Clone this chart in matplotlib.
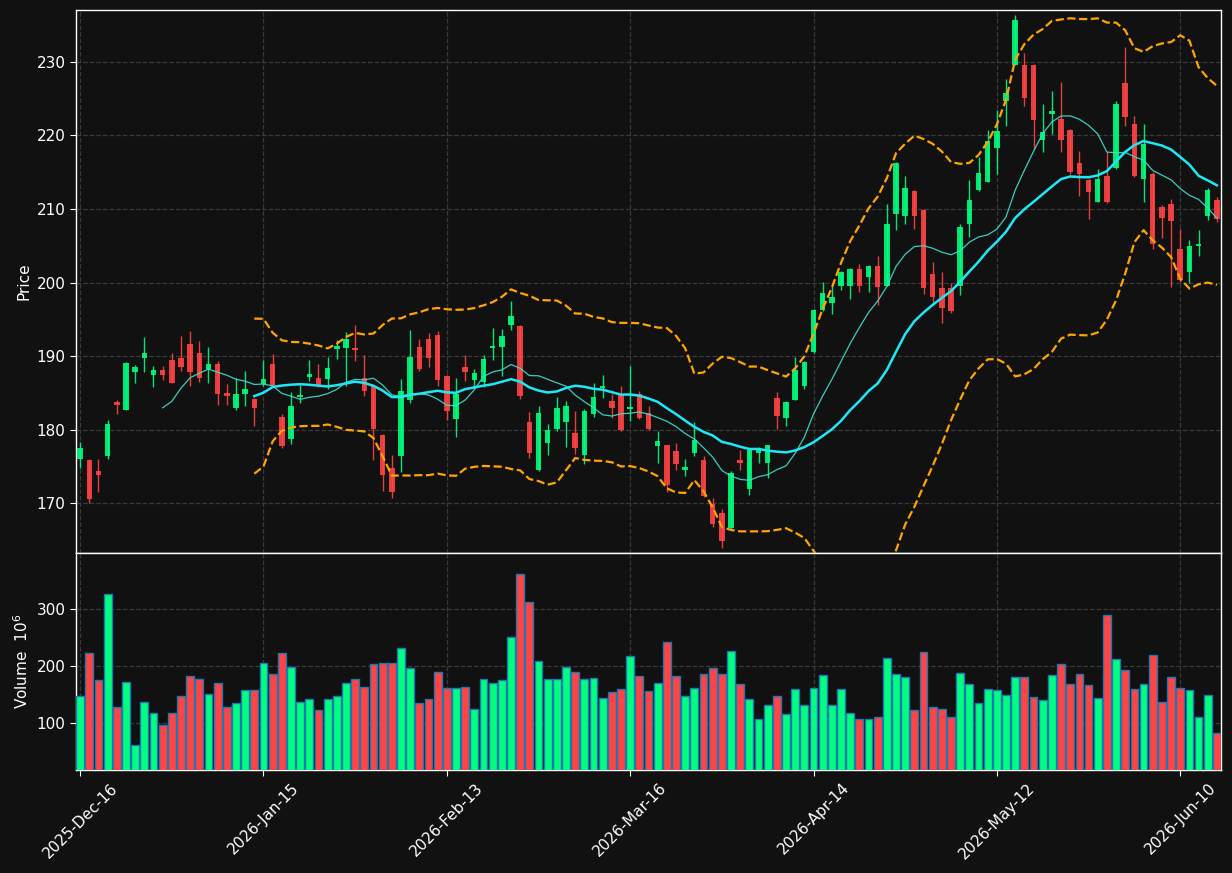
import matplotlib

matplotlib.use("Agg")

import matplotlib.pyplot as plt  # noqa: E402
import numpy as np  # noqa: E402
import pandas as pd  # noqa: E402

# daily OHLC
opens = [176.0, 175.9, 174.4, 176.4, 183.8, 182.7, 187.8, 189.7, 187.5, 188.1,
         189.5, 189.8, 191.7, 190.5, 188.2, 189.0, 185.0, 183.0, 184.8, 184.2,
         186.2, 189.0, 181.7, 178.7, 184.5, 187.2, 187.0, 186.9, 191.0, 191.1,
         191.1, 187.0, 186.0, 179.3, 174.8, 176.5, 184.1, 191.2, 192.3, 192.9,
         187.3, 181.5, 188.6, 186.8, 186.5, 191.1, 191.3, 194.3, 194.1, 181.0,
         174.6, 178.2, 180.1, 181.0, 179.6, 176.6, 182.2, 185.7, 183.9, 184.8,
         182.8, 184.9, 182.3, 177.8, 177.9, 177.1, 174.5, 176.8, 175.9, 169.9,
         168.7, 166.6, 175.9, 171.9, 176.9, 175.5, 184.3, 181.6, 184.1, 185.9,
         190.6, 196.3, 197.2, 199.6, 199.6, 201.9, 200.7, 202.3, 199.6, 209.3,
         209.1, 212.5, 209.8, 201.1, 199.3, 199.2, 199.6, 208.0, 212.6, 213.7,
         218.3, 224.7, 229.6, 229.5, 229.6, 219.4, 222.9, 222.2, 220.7, 216.3,
         213.9, 211.0, 214.5, 215.5, 227.1, 221.5, 214.0, 214.7, 210.3, 210.7,
         204.6, 201.5, 204.9, 209.0, 211.2]
highs = [178.3, 176.0, 176.0, 181.3, 184.1, 189.2, 188.8, 192.6, 188.7, 188.7,
         190.4, 192.7, 193.4, 192.0, 191.2, 189.3, 186.2, 187.0, 188.0, 184.3,
         189.5, 190.3, 182.2, 185.2, 186.1, 189.5, 188.9, 189.9, 192.2, 193.3,
         194.3, 190.1, 186.1, 179.4, 176.6, 186.9, 193.5, 192.3, 193.2, 193.4,
         187.4, 187.0, 190.1, 188.3, 190.1, 193.8, 193.7, 197.5, 194.2, 182.4,
         183.3, 180.8, 184.5, 183.9, 182.5, 182.8, 186.3, 187.4, 184.8, 185.9,
         188.7, 185.3, 183.2, 179.8, 178.0, 178.2, 176.0, 181.0, 176.4, 170.8,
         169.3, 174.4, 177.2, 177.3, 177.6, 178.0, 185.1, 183.9, 189.9, 189.3,
         196.4, 200.1, 199.5, 201.6, 202.0, 202.5, 202.4, 203.6, 210.7, 216.4,
         214.5, 212.6, 210.0, 202.8, 201.4, 200.0, 207.9, 213.9, 217.1, 220.7,
         223.5, 227.6, 236.3, 231.2, 229.7, 224.3, 226.0, 227.2, 220.8, 217.9,
         214.0, 215.4, 217.7, 224.7, 232.0, 222.6, 221.6, 215.0, 210.5, 211.4,
         207.3, 205.8, 207.1, 212.8, 211.6]
lows = [174.8, 170.1, 171.6, 176.1, 182.1, 182.7, 186.4, 187.8, 185.8, 186.7,
        186.3, 188.0, 185.9, 186.5, 186.3, 183.4, 183.4, 182.7, 183.2, 180.5,
        186.0, 186.0, 177.5, 178.1, 183.7, 186.6, 185.8, 185.5, 189.6, 185.9,
        189.3, 184.6, 175.9, 171.7, 170.8, 174.3, 183.7, 188.0, 188.6, 186.0,
        181.4, 179.0, 186.6, 185.7, 185.8, 189.5, 187.3, 193.6, 184.2, 176.2,
        174.4, 176.6, 179.9, 177.7, 176.7, 175.3, 181.8, 184.3, 181.6, 179.8,
        181.2, 181.5, 180.0, 175.5, 171.5, 174.6, 173.7, 176.5, 170.9, 166.8,
        164.0, 166.5, 174.6, 171.2, 175.5, 173.5, 180.1, 180.5, 184.0, 185.5,
        190.5, 196.2, 195.7, 199.0, 197.7, 198.7, 198.7, 197.0, 199.5, 207.1,
        207.9, 207.3, 198.4, 197.2, 194.5, 195.8, 198.3, 206.2, 212.5, 213.6,
        214.7, 221.3, 229.5, 224.0, 218.1, 217.7, 220.2, 217.7, 214.7, 211.8,
        208.6, 210.9, 210.8, 215.4, 221.2, 214.3, 211.0, 204.5, 206.0, 199.4,
        200.1, 200.0, 203.6, 208.5, 208.2]
closes = [177.5, 170.6, 173.9, 180.8, 183.4, 189.1, 188.6, 190.5, 188.1, 187.4,
          186.3, 188.6, 187.9, 187.0, 189.0, 184.8, 184.6, 184.9, 185.6, 182.9,
          186.9, 186.0, 177.8, 183.2, 184.7, 187.6, 186.1, 188.4, 191.4, 192.4,
          190.9, 185.3, 180.1, 173.8, 171.5, 185.3, 189.9, 188.3, 189.8, 186.7,
          182.6, 184.8, 187.8, 187.7, 189.6, 191.4, 192.8, 195.5, 184.6, 176.9,
          182.3, 180.0, 183.0, 183.2, 177.5, 182.5, 184.5, 185.9, 182.9, 180.0,
          183.1, 181.6, 180.1, 178.5, 172.5, 175.3, 175.0, 178.6, 171.0, 167.2,
          164.9, 174.2, 175.5, 177.2, 177.5, 177.9, 181.9, 183.8, 188.1, 189.2,
          196.3, 198.6, 198.1, 201.5, 201.9, 199.6, 202.3, 199.4, 207.9, 216.3,
          212.9, 209.0, 199.2, 198.1, 196.5, 196.2, 207.6, 211.2, 214.9, 219.2,
          220.6, 225.7, 235.6, 225.1, 222.1, 220.4, 223.3, 219.3, 215.0, 214.7,
          212.3, 214.1, 210.9, 224.2, 222.5, 214.5, 218.8, 205.2, 208.7, 208.3,
          200.4, 205.0, 205.3, 212.6, 208.6]
# volume in millions
volumes = [147, 222, 175, 326, 128, 173, 63, 138, 119, 97,
           119, 147, 182, 177, 152, 171, 129, 136, 159, 159,
           205, 187, 222, 199, 138, 142, 124, 142, 147, 171,
           178, 164, 203, 206, 205, 231, 196, 135, 143, 189,
           161, 161, 164, 126, 177, 171, 175, 251, 361, 312,
           209, 177, 177, 198, 189, 177, 179, 144, 154, 160,
           217, 182, 156, 170, 242, 182, 147, 161, 186, 196,
           186, 226, 168, 142, 107, 132, 147, 116, 160, 133,
           161, 184, 133, 160, 118, 107, 107, 112, 214, 186,
           181, 123, 225, 128, 125, 112, 188, 168, 135, 160,
           158, 149, 181, 181, 146, 140, 184, 204, 168, 186,
           167, 144, 289, 212, 193, 160, 168, 219, 137, 181,
           161, 158, 111, 149, 84]
holidays = ["2025-12-25", "2026-01-01", "2026-01-19", "2026-02-16", "2026-04-03", "2026-05-25"]

BG = "#111111"
UP = "#00ff7f"
DOWN = "#ff4444"

df = pd.DataFrame({"Open": opens, "High": highs, "Low": lows, "Close": closes, "Volume": volumes})
bday = pd.offsets.CustomBusinessDay(holidays=holidays)
df.index = pd.date_range("2025-12-16", periods=len(df), freq=bday)

x = np.arange(len(df))
up = df["Close"] >= df["Open"]
colors = np.where(up, UP, DOWN)

ma10 = df["Close"].rolling(10).mean()
ma20 = df["Close"].rolling(20).mean()
std20 = df["Close"].rolling(20).std()
bb_upper = ma20 + 2 * std20
bb_lower = ma20 - 2 * std20

fig = plt.figure(figsize=(12.32, 8.73), dpi=100, facecolor=BG)
ax = fig.add_axes([0.0617, 0.3666, 0.9294, 0.6220])
axv = fig.add_axes([0.0617, 0.1180, 0.9294, 0.2486], sharex=ax)

for a in (ax, axv):
    a.set_facecolor(BG)
    a.grid(True, linestyle="--", color="#3a3a3a", linewidth=0.9)
    a.set_axisbelow(True)
    for spine in a.spines.values():
        spine.set_color("white")
        spine.set_linewidth(1.0)
    a.tick_params(colors="white", labelsize=11, length=4)

# candles
body_bottom = np.minimum(df["Open"], df["Close"])
body_height = (df["Close"] - df["Open"]).abs().clip(lower=0.15)
ax.vlines(x, df["Low"], df["High"], colors=colors, linewidth=1.0, alpha=0.9, zorder=3)
ax.bar(x, body_height, width=0.6, bottom=body_bottom, color=colors, alpha=0.9, linewidth=0, zorder=4)

ax.plot(x, ma10, color="#40e0d0", linewidth=0.9, alpha=0.9, zorder=5)
ax.plot(x, ma20, color="#1ee8f5", linewidth=1.8, zorder=5)
ax.plot(x, bb_upper, color="orange", linestyle="--", linewidth=1.6, zorder=5)
ax.plot(x, bb_lower, color="orange", linestyle="--", linewidth=1.6, zorder=5)

lo, hi = df["Low"].min(), df["High"].max()
pad = 0.01 * (hi - lo)
ax.set_ylim(lo - pad, hi + pad)
ax.set_yticks([170, 180, 190, 200, 210, 220, 230])
ax.set_ylabel("Price", color="white", fontsize=11)
ax.tick_params(axis="x", labelbottom=False)

# volume
axv.bar(x, df["Volume"], width=0.85, color=colors, edgecolor="#1f77b4", linewidth=1.0, zorder=3)
axv.set_ylim(0.3 * df["Volume"].min(), 1.1 * df["Volume"].max())
axv.set_yticks([100, 200, 300])
axv.set_ylabel("Volume  $10^{6}$", color="white", fontsize=11)

ax.set_xlim(-0.45, len(df) - 0.55)
tick_pos = list(range(0, len(df), 20))
axv.set_xticks(tick_pos)
axv.set_xticklabels([df.index[i].strftime("%Y-%b-%d") for i in tick_pos], rotation=45, fontsize=11)

fig.savefig("out.png", dpi=100, facecolor=BG)
plt.close(fig)
